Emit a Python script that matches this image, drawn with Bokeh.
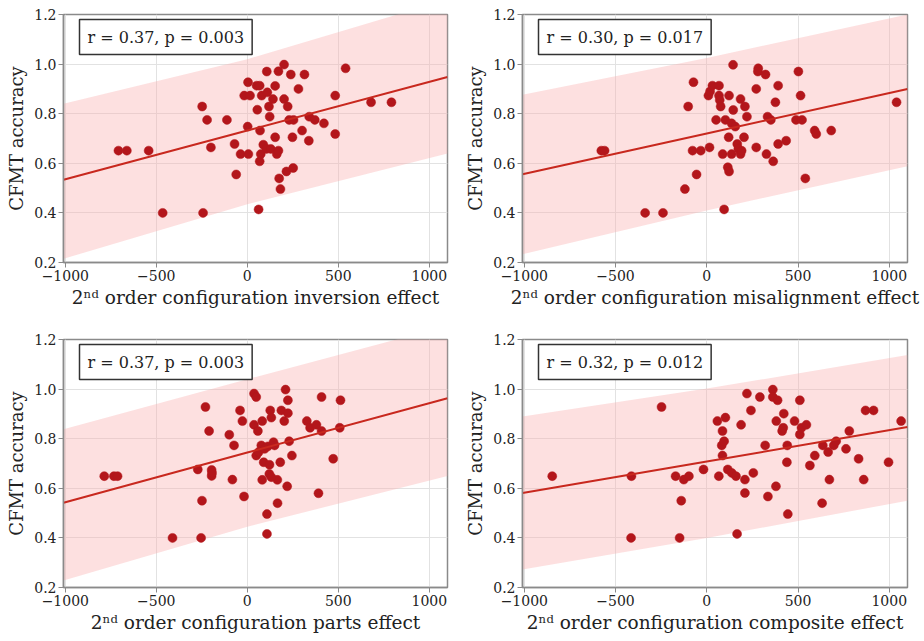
from bokeh.plotting import figure
from bokeh.layouts import column, row
from bokeh.models import Label, FixedTicker, NumeralTickFormatter
from bokeh.embed import file_html
from bokeh.resources import INLINE

# ---------------- data ----------------
x_ticks = [-1000, -500, 0, 500, 1000]
y_ticks = [0.2, 0.4, 0.6, 0.8, 1.0, 1.2]

inv_x = [-708, -662, -542, -465, -243, -248, -221, -200, -112, -70, -61, -37, 6, 2, 4, -17, 15, 51, 68, 55,
         70, 68, 62, 79, 107, 110, 119, 123, 141, 153, 171, 153, 74, 88, 105, 129, 162, 171, 175, 182,
         202, 202, 222, 215, 230, 239, 252, 254, 248, 281, 314, 301, 340, 338, 371, 421, 483, 483, 540, 680, 792]
inv_y = [0.651, 0.651, 0.651, 0.40, 0.40, 0.829, 0.775, 0.664, 0.775, 0.678, 0.555, 0.637, 0.637, 0.748, 0.927,
         0.873, 0.873, 0.913, 0.913, 0.816, 0.732, 0.608, 0.414, 0.873, 0.970, 0.886, 0.829, 0.788, 0.859, 0.912,
         0.971, 0.705, 0.637, 0.675, 0.658, 0.658, 0.637, 0.651, 0.539, 0.496, 0.998, 0.859, 0.829, 0.567, 0.775,
         0.958, 0.581, 0.775, 0.705, 0.900, 0.958, 0.732, 0.788, 0.691, 0.775, 0.761, 0.873, 0.718, 0.983, 0.846, 0.846]

mis_x = [-578, -560, -338, -240, -120, -102, -73, -78, -56, -33, 15, 9, 18, 31, 67, 67, 71, 76, 51, 87,
         95, 102, 122, 115, 122, 120, 136, 144, 145, 156, 136, 167, 173, 185, 191, 185, 209, 204, 220, 271,
         271, 282, 280, 322, 327, 333, 351, 364, 376, 391, 391, 435, 489, 502, 514, 522, 540, 591, 600, 682, 1040]
mis_y = [0.651, 0.651, 0.40, 0.40, 0.496, 0.829, 0.927, 0.651, 0.555, 0.651, 0.664, 0.873, 0.890, 0.913, 0.913,
         0.873, 0.855, 0.829, 0.775, 0.637, 0.414, 0.775, 0.873, 0.584, 0.567, 0.705, 0.761, 0.997, 0.815, 0.748,
         0.637, 0.678, 0.658, 0.637, 0.651, 0.859, 0.829, 0.705, 0.788, 0.900, 0.664, 0.983, 0.970, 0.958, 0.637,
         0.788, 0.775, 0.608, 0.846, 0.913, 0.678, 0.691, 0.775, 0.970, 0.873, 0.775, 0.539, 0.732, 0.718, 0.732, 0.846]

par_x = [-786, -733, -713, -411, -254, -272, -249, -230, -210, -196, -196, -194, -99, -73, -82, -40, -27, -18, 37, 49,
         37, 58, 82, 49, 62, 77, 90, 82, 108, 108, 113, 122, 126, 132, 121, 144, 150, 165, 166, 181,
         187, 203, 210, 223, 223, 219, 230, 245, 327, 345, 380, 408, 408, 391, 472, 508, 512, 95, 132]
par_y = [0.649, 0.649, 0.649, 0.40, 0.40, 0.676, 0.550, 0.928, 0.831, 0.674, 0.650, 0.662, 0.816, 0.773, 0.635,
         0.914, 0.871, 0.567, 0.982, 0.968, 0.856, 0.831, 0.871, 0.732, 0.746, 0.773, 0.705, 0.634, 0.496, 0.416,
         0.769, 0.695, 0.914, 0.885, 0.658, 0.786, 0.773, 0.634, 0.540, 0.705, 0.914, 0.871, 0.998, 0.903, 0.955,
         0.608, 0.790, 0.732, 0.871, 0.844, 0.856, 0.968, 0.831, 0.580, 0.719, 0.844, 0.955, 0.759, 0.645]

com_x = [-847, -413, -415, -248, -171, -140, -149, -126, -98, -18, 58, 66, 86, 82, 95, 86, 102, 115, 137, 160,
         166, 188, 209, 209, 220, 242, 255, 291, 320, 335, 362, 362, 388, 381, 379, 413, 419, 422, 441, 439,
         444, 481, 510, 510, 519, 546, 565, 592, 632, 636, 665, 672, 696, 709, 763, 781, 832, 860, 870, 914, 996, 1065]
com_y = [0.649, 0.649, 0.40, 0.928, 0.649, 0.550, 0.40, 0.635, 0.649, 0.676, 0.871, 0.649, 0.831, 0.773, 0.790,
         0.732, 0.885, 0.676, 0.662, 0.649, 0.416, 0.856, 0.635, 0.581, 0.982, 0.914, 0.662, 0.968, 0.773, 0.567,
         0.998, 0.968, 0.955, 0.871, 0.608, 0.831, 0.844, 0.901, 0.773, 0.705, 0.496, 0.871, 0.955, 0.817, 0.844,
         0.856, 0.692, 0.732, 0.540, 0.773, 0.746, 0.635, 0.773, 0.790, 0.759, 0.831, 0.719, 0.635, 0.914, 0.914, 0.705, 0.871]

band_x = [-1010, 0, 1100]
inv_fit = [0.534, 0.732, 0.948]
inv_lo = [0.215, 0.435, 0.640]
inv_hi = [0.840, 1.020, 1.260]
mis_fit = [0.556, 0.720, 0.900]
mis_lo = [0.233, 0.410, 0.588]
mis_hi = [0.876, 1.025, 1.200]
par_fit = [0.542, 0.744, 0.963]
par_lo = [0.228, 0.445, 0.650]
par_hi = [0.838, 1.040, 1.255]
com_fit = [0.581, 0.708, 0.847]
com_lo = [0.273, 0.400, 0.550]
com_hi = [0.890, 1.002, 1.137]

stats = ["r = 0.37, p = 0.003", "r = 0.30, p = 0.017", "r = 0.37, p = 0.003", "r = 0.32, p = 0.012"]
x_titles = ["2\u207f\u1d48 order configuration inversion effect",
            "2\u207f\u1d48 order configuration misalignment effect",
            "2\u207f\u1d48 order configuration parts effect",
            "2\u207f\u1d48 order configuration composite effect"]
y_title = "CFMT accuracy"

# ---------------- style ----------------
FONT = "DejaVu Serif"
TXT = "#222222"
GRAY = "#8a8a8a"
PT = "#b3161b"
LN = "#c8281e"


def panel(xs, ys, fit, lo, hi, stat, xtitle, left, right, top, bottom, width, height, frame_h):
    p = figure(width=width, height=height, x_range=(-1010, 1100), y_range=(0.2, 1.2),
               output_backend="svg", toolbar_location=None, tools="",
               min_border_left=left, min_border_right=right, min_border_top=top, min_border_bottom=bottom)
    p.background_fill_color = "white"
    p.border_fill_color = "white"
    p.outline_line_color = GRAY
    p.outline_line_width = 1.5
    p.outline_line_alpha = 1.0

    p.xaxis.ticker = FixedTicker(ticks=x_ticks)
    p.xaxis.major_label_overrides = {t: (str(t).replace("-", "\u2212")) for t in x_ticks}
    p.yaxis.ticker = FixedTicker(ticks=y_ticks)
    p.yaxis.formatter = NumeralTickFormatter(format="0.0")
    for ax in (p.xaxis, p.yaxis):
        ax.axis_line_color = GRAY
        ax.axis_line_width = 1.5
        ax.major_tick_line_color = GRAY
        ax.major_tick_out = 5
        ax.major_tick_in = 0
        ax.minor_tick_out = 0
        ax.minor_tick_in = 0
        ax.major_label_standoff = 2
        ax.major_label_text_font = FONT
        ax.major_label_text_font_size = "14px"
        ax.major_label_text_color = TXT
        ax.axis_label_text_font = FONT
        ax.axis_label_text_font_style = "normal"
        ax.axis_label_text_color = TXT
    p.xaxis.axis_label = xtitle
    p.xaxis.axis_label_text_font_size = "18.5px"
    p.xaxis.axis_label_standoff = 3
    p.yaxis.axis_label = y_title
    p.yaxis.axis_label_text_font_size = "18px"
    p.yaxis.axis_label_standoff = 4
    p.xgrid.ticker = FixedTicker(ticks=x_ticks)
    p.ygrid.ticker = FixedTicker(ticks=y_ticks)
    p.grid.grid_line_color = "#e2e2e2"
    p.grid.grid_line_width = 1

    p.varea(x=band_x, y1=lo, y2=hi, fill_color="#fab2b2", fill_alpha=0.4)
    p.scatter(xs, ys, size=9, fill_color=PT, line_color=PT, line_width=0.5)
    p.line(band_x, fit, line_color=LN, line_width=2)

    p.add_layout(Label(x=16, y=frame_h - 5, x_units="screen", y_units="screen", text=stat,
                       anchor="top_left", text_font=FONT, text_font_size="16px", text_color=TXT,
                       background_fill_color="white", background_fill_alpha=1.0,
                       border_line_color="#333333", border_line_width=1.5, padding=8))
    return p


p1 = panel(inv_x, inv_y, inv_fit, inv_lo, inv_hi, stats[0], x_titles[0], 63, 15, 14, 63, 462, 325, 248)
p2 = panel(mis_x, mis_y, mis_fit, mis_lo, mis_hi, stats[1], x_titles[1], 60, 15, 14, 63, 460, 325, 248)
p3 = panel(par_x, par_y, par_fit, par_lo, par_hi, stats[2], x_titles[2], 63, 15, 14, 53, 462, 315, 248)
p4 = panel(com_x, com_y, com_fit, com_lo, com_hi, stats[3], x_titles[3], 60, 15, 14, 53, 460, 315, 248)

layout = column(row(p1, p2), row(p3, p4))

open("out.html", "w").write(file_html(layout, INLINE))
